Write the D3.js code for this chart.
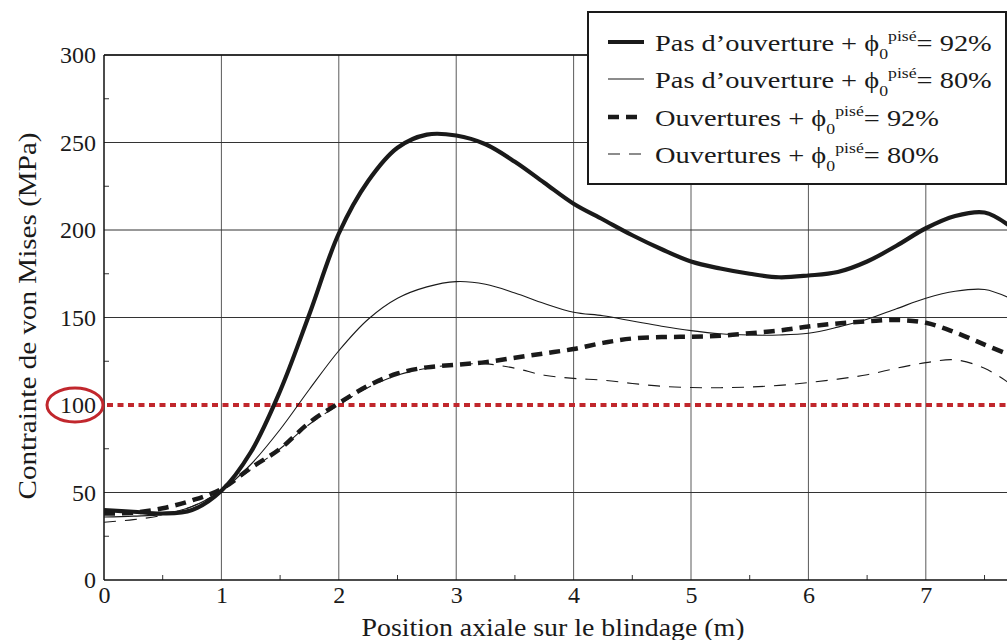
<!DOCTYPE html>
<html><head><meta charset="utf-8">
<script src="https://cdn.jsdelivr.net/npm/d3@7"></script>
<style>html,body{margin:0;padding:0;background:#fff;overflow:hidden}</style>
</head>
<body><svg id="c" width="1007" height="640"></svg>
<script>
// ---- data ----
const xPos = [0,0.25,0.5,0.75,1,1.25,1.5,1.75,2,2.25,2.5,2.75,3,3.25,3.5,3.75,4,4.25,4.5,4.75,5,5.25,5.5,5.75,6,6.25,6.5,6.75,7,7.25,7.5,7.7];
const sansOuv92 = [40,39,38,40,51,73,108,152,198,228,247,254.5,254,249,239,227,215,206,197,189,182,178,175,173,174,176,182,191,201,208,210,203];
const sansOuv80 = [36,36.5,37.5,42,51,66,86,109,131,149,161,167.5,170.5,169,164,158,153,151,148,145,142.5,140.7,140,140,141,144.5,149,155,161,165,166,161.5];
const ouv92 = [38,38.5,41,45.5,52,64,75,90,101,111,118,121.5,123,124.5,127,129.5,132,135.5,138,138.8,139,139.5,141,142.5,144.8,146.6,147.8,148.6,147,141.5,134.5,129];
const ouv80 = [33,34.5,37,42,51,63,75,89,100,110,117,121,123,123.5,121,117,115.2,114.2,112.3,110.7,110,109.9,110.3,111.2,112.8,114.8,117.3,121,124.2,125.8,121,113];
const seriesNames = ["Pas d\u2019ouverture + ", "Pas d\u2019ouverture + ", "Ouvertures + ", "Ouvertures + "];
const seriesPct = ["92%","80%","92%","80%"];
const xTicks = [0,1,2,3,4,5,6,7];
const yTicks = [0,50,100,150,200,250,300];
const threshold = 100;

const FONT = '"Liberation Serif", "Times New Roman", serif';
const INK = "#1a1a1a";
const svg = d3.select("#c");
const x = d3.scaleLinear().domain([0,7.7]).range([104,1008]);
const y = d3.scaleLinear().domain([0,300]).range([580,55]);

// grid
const g = svg.append("g");
g.selectAll(".vg").data(xTicks.filter(d=>d>0)).enter().append("line")
 .attr("x1",d=>x(d)).attr("x2",d=>x(d)).attr("y1",y(0)).attr("y2",y(300))
 .attr("stroke","#5a5a5a").attr("stroke-width",1);
g.selectAll(".hg").data(yTicks.filter(d=>d>0 && d!==threshold)).enter().append("line")
 .attr("x1",x(0)).attr("x2",1008).attr("y1",d=>y(d)).attr("y2",d=>y(d))
 .attr("stroke","#333").attr("stroke-width",1);

// minor ticks
const xMinor = d3.range(0.5,7.7,1);
g.selectAll(".xm").data(xMinor).enter().append("line")
 .attr("x1",d=>x(d)).attr("x2",d=>x(d)).attr("y1",y(0)).attr("y2",y(0)-5)
 .attr("stroke","#333").attr("stroke-width",1);
const yMinor = d3.range(25,300,50);
g.selectAll(".ym").data(yMinor).enter().append("line")
 .attr("x1",x(0)).attr("x2",x(0)+5).attr("y1",d=>y(d)).attr("y2",d=>y(d))
 .attr("stroke","#333").attr("stroke-width",1);

// axes
const xAxis = d3.axisBottom(x).tickValues(xTicks).tickSize(0).tickPadding(6).tickFormat(d3.format("d"));
const ax = svg.append("g").attr("transform",`translate(0,${y(0)})`).call(xAxis);
ax.select(".domain").remove();
ax.selectAll("text").style("font-size","24px").style("font-family",FONT).style("fill",INK);
const yAxis = d3.axisLeft(y).tickValues(yTicks).tickSize(0).tickPadding(8);
const ay = svg.append("g").attr("transform",`translate(${x(0)},0)`).call(yAxis);
ay.select(".domain").remove();
ay.selectAll("text").style("font-size","24px").style("font-family",FONT).style("fill",INK);

svg.append("line").attr("x1",x(0)).attr("x2",1008).attr("y1",y(0)).attr("y2",y(0)).attr("stroke","#111").attr("stroke-width",1.5);
svg.append("line").attr("x1",x(0)).attr("x2",x(0)).attr("y1",y(0)).attr("y2",y(300)).attr("stroke","#111").attr("stroke-width",1.5);
svg.append("line").attr("x1",x(0)).attr("x2",1008).attr("y1",y(300)).attr("y2",y(300)).attr("stroke","#111").attr("stroke-width",1.5);

// threshold
svg.append("line").attr("x1",x(0)+3).attr("x2",1008).attr("y1",y(threshold)).attr("y2",y(threshold))
 .attr("stroke","#c1272d").attr("stroke-width",4).attr("stroke-dasharray","6,4.5");
svg.append("ellipse").attr("cx",75).attr("cy",y(threshold)).attr("rx",28).attr("ry",17)
 .attr("fill","none").attr("stroke","#c1272d").attr("stroke-width",3);

// lines
const styles = [
 {data:sansOuv92, w:4.2, dash:null},
 {data:sansOuv80, w:1.1, dash:null},
 {data:ouv92, w:4.5, dash:"11,7"},
 {data:ouv80, w:1.1, dash:"12,9"}
];
const line = d3.line().x((d,i)=>x(xPos[i])).y(d=>y(d)).curve(d3.curveCatmullRom.alpha(0.5));
svg.append("clipPath").attr("id","cp").append("rect").attr("x",x(0)).attr("y",y(300)).attr("width",1008-x(0)).attr("height",y(0)-y(300));
const lg = svg.append("g").attr("clip-path","url(#cp)");
styles.slice().reverse().forEach(s=>{
  lg.append("path").attr("d",line(s.data)).attr("fill","none").attr("stroke",INK)
   .attr("stroke-width",s.w).attr("stroke-dasharray",s.dash);
});

// axis titles
svg.append("text").attr("x",553).attr("y",636).attr("text-anchor","middle")
 .attr("textLength",383).attr("lengthAdjust","spacingAndGlyphs")
 .style("font-size","25px").style("font-family",FONT).style("fill",INK)
 .text("Position axiale sur le blindage (m)");
svg.append("text").attr("transform","translate(36,316) rotate(-90)").attr("text-anchor","middle")
 .attr("textLength",367).attr("lengthAdjust","spacingAndGlyphs")
 .style("font-size","25px").style("font-family",FONT).style("fill",INK)
 .text("Contrainte de von Mises (MPa)");

// legend
const leg = svg.append("g");
leg.append("rect").attr("x",588).attr("y",12).attr("width",418).attr("height",172)
 .attr("fill","#fff").attr("stroke",INK).attr("stroke-width",2);
const rowY = [42,79,117,154];
const rowTexts = [];
styles.forEach((s,i)=>{
  leg.append("line").attr("x1",608).attr("x2",644).attr("y1",rowY[i]).attr("y2",rowY[i])
   .attr("stroke",INK).attr("stroke-width",s.w).attr("stroke-dasharray",s.dash);
  const t = leg.append("text").attr("x",0).attr("y",0)
   .style("font-size","24px").style("font-family",FONT).style("fill",INK);
  t.append("tspan").text(seriesNames[i]);
  t.append("tspan").text("\u03D5");
  t.append("tspan").style("font-size","15px").attr("dy",8).text("0");
  t.append("tspan").style("font-size","15px").attr("dy",-18).text("pis\u00E9");
  t.append("tspan").attr("dy",10).text("= "+seriesPct[i]);
  rowTexts.push({t, i});
});
const w0 = rowTexts[0].t.node().getBBox().width;
const sx = 337 / w0;
rowTexts.forEach(({t,i})=>{
  t.attr("transform",`translate(655,${rowY[i]+9}) scale(${sx},1)`);
});
</script></body></html>
